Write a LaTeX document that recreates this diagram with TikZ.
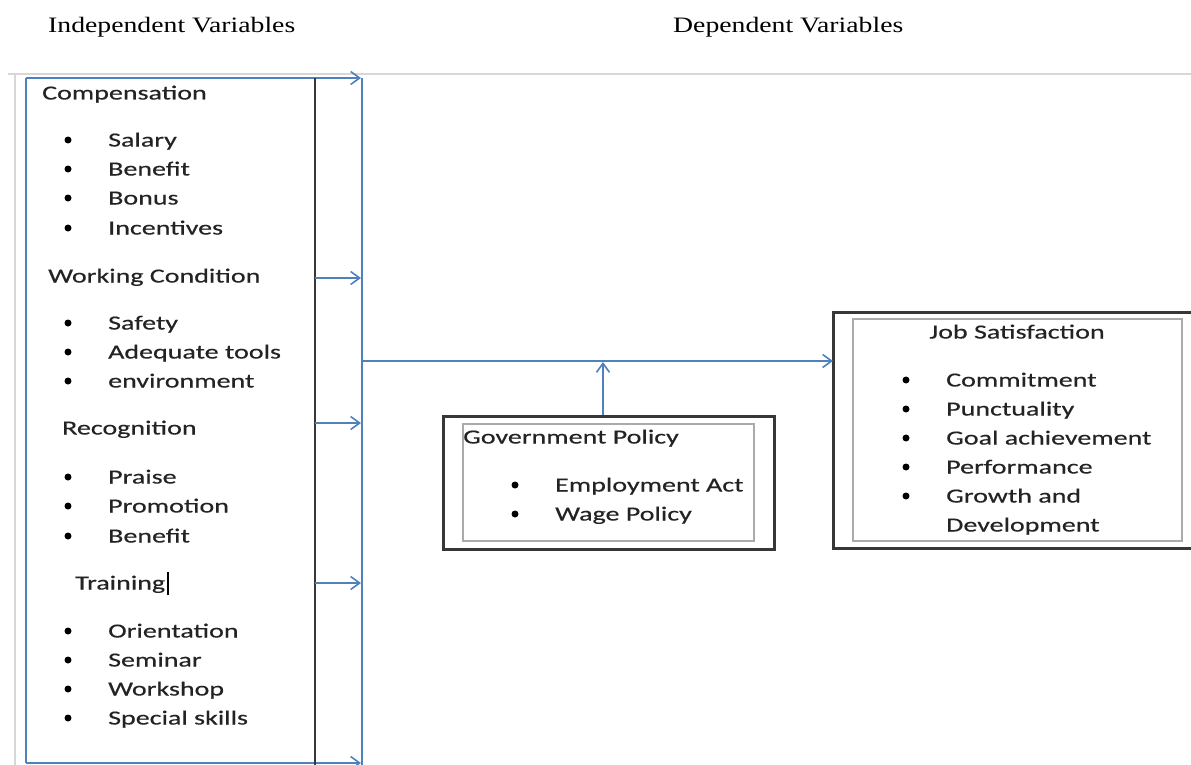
\documentclass[tikz,border=0pt]{standalone}
\usepackage{fontspec}
\usetikzlibrary{arrows.meta}
\newfontfamily\bodyf{Carlito}[FakeStretch=1.4,FakeBold=0.4]
\newfontfamily\headf{Liberation Serif}[FakeStretch=1.26]
\definecolor{lineblue}{RGB}{79,129,189}
\definecolor{boxdark}{RGB}{55,55,55}
\definecolor{boxlight}{RGB}{170,170,170}
\definecolor{framegray}{RGB}{215,215,215}
\definecolor{txt}{RGB}{35,35,35}
\tikzset{
  x=1pt,y=-1pt,
  lbl/.style={anchor=base west,inner sep=0pt,font=\bodyf\fontsize{20}{24}\selectfont,text=txt},
  hdr/.style={anchor=base west,inner sep=0pt,font=\headf\fontsize{22}{26}\selectfont,text=black},
  bul/.style={circle,fill=black,inner sep=0pt,minimum size=7pt},
  bluel/.style={draw=lineblue,line width=2pt},
  arr/.style={bluel,-{Straight Barb[length=9pt,width=13pt,line width=1.6pt]}},
  outerbox/.style={draw=boxdark,line width=3pt,inner sep=0pt},
  innerbox/.style={draw=boxlight,line width=1.3pt,inner sep=0pt},
}
\begin{document}
\begin{tikzpicture}
\useasboundingbox[fill=white] (0,0) rectangle (1191,765);
% headers
\node[hdr] (hind) at (48,33) {Independent Variables};
\node[hdr] (hdep) at (673,33) {Dependent Variables};
% faint frame
\draw[framegray,line width=1.5pt] (8,74) -- (1191,74);
\draw[framegray,line width=1.5pt] (15,74) -- (15,765);
% left box
\coordinate (tl) at (26,78);
\coordinate (bl) at (26,763);
\coordinate (bus top) at (362,78);
\coordinate (bus bot) at (362,765);
\draw[bluel] (tl) -- (bl);
\draw[arr] (tl) -- (361,78);
\draw[arr] (bl) -- (361,763);
\draw[boxdark,line width=2.6pt] (315,78) -- (315,765);
\draw[bluel] (bus top) -- (bus bot);
\foreach \yy/\nm in {278/wc,423/rc,583/tr}{
  \coordinate (s\nm) at (315,\yy);
  \coordinate (e\nm) at (361,\yy);
  \draw[arr] (s\nm) -- (e\nm);
}
% left texts
\node[lbl] (comp) at (42,99.5) {Compensation};
\foreach \yy/\t [count=\i] in {140/Salary,169/Benefit,198/Bonus,228/Incentives}{
  \node[bul] (cb\i) at (68,\yy) {};
  \node[lbl] (ct\i) at (108,\yy+6.5) {\t};
}
\node[lbl] (work) at (48,282.5) {Working Condition};
\foreach \yy/\t [count=\i] in {323/Safety,352/Adequate tools,381/environment}{
  \node[bul] (wb\i) at (68,\yy) {};
  \node[lbl] (wt\i) at (108,\yy+6.5) {\t};
}
\node[lbl] (reco) at (62,434.5) {Recognition};
\foreach \yy/\t [count=\i] in {477/Praise,506/Promotion,536/Benefit}{
  \node[bul] (rb\i) at (68,\yy) {};
  \node[lbl] (rt\i) at (108,\yy+6.5) {\t};
}
\node[lbl] (train) at (75,589.5) {Training};
\draw[black,line width=1.8pt] (168,572) -- (168,595);
\foreach \yy/\t [count=\i] in {631/Orientation,660/Seminar,689/Workshop,718/Special skills}{
  \node[bul] (tb\i) at (68,\yy) {};
  \node[lbl] (tt\i) at (108,\yy+6.5) {\t};
}
% government policy
\node[outerbox,minimum width=331pt,minimum height=133pt] (gp) at (608.5,482.5) {};
\node[innerbox,minimum width=291pt,minimum height=117pt] (gpi) at (608.5,482.5) {};
\node[lbl] (gpt) at (463,443.5) {Government Policy};
\node[bul] (gb1) at (515,485) {};
\node[lbl] (gt1) at (555,491.5) {Employment Act};
\node[bul] (gb2) at (515,514) {};
\node[lbl] (gt2) at (555,520.5) {Wage Policy};
% job satisfaction
\draw[boxdark,line width=3pt] (1195,312) -| (833,548) -- (1195,548);
\coordinate (js) at (833,361);
\node[innerbox,minimum width=329pt,minimum height=222pt] (jsi) at (1017.5,430) {};
\node[lbl,anchor=base] (jst) at (1017,338.5) {Job Satisfaction};
\foreach \yy/\t [count=\i] in {380/Commitment,409/Punctuality,438/Goal achievement,467/Performance,496/Growth and}{
  \node[bul] (jb\i) at (906,\yy) {};
  \node[lbl] (jt\i) at (946,\yy+6.5) {\t};
}
\node[lbl] (jt6) at (946,531.5) {Development};
% main connectors
\coordinate (bus mid) at (362,361);
\draw[arr] (bus mid) -- (js);
\coordinate (gpup) at (603,362);
\draw[arr] (gp.north -| gpup) -- (gpup);
\end{tikzpicture}
\end{document}
